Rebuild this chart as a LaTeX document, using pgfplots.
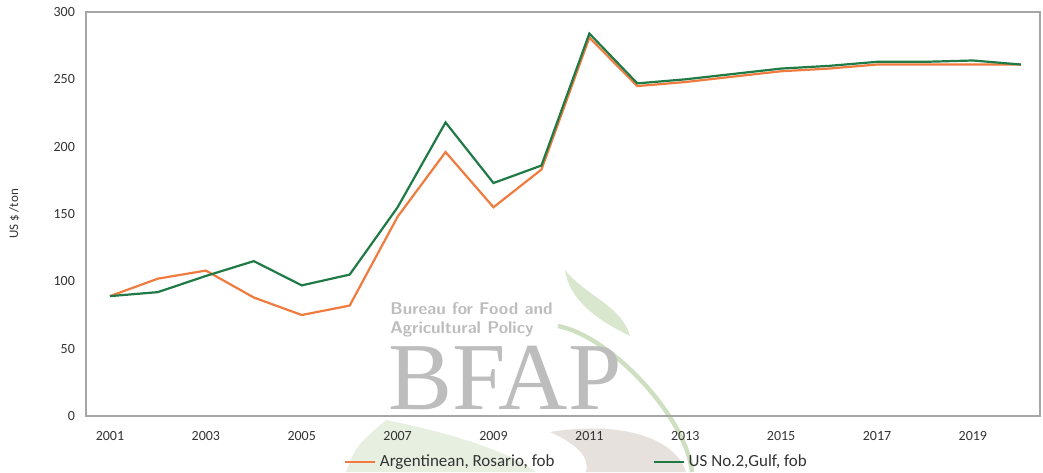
\documentclass[border=0pt]{standalone}
\usepackage{fontspec}
\setmainfont{Carlito}
\newfontfamily\markserif{Liberation Serif}
\usepackage{pgfplots}
\pgfplotsset{compat=1.18}
\definecolor{cargen}{HTML}{F07B3F}
\definecolor{cus}{HTML}{1F7A45}
\definecolor{cframe}{HTML}{A6A6A6}
\definecolor{cleaf}{HTML}{B9D3A6}
\definecolor{cmark}{HTML}{BDBDBD}
\definecolor{cbrown}{HTML}{C9BDB6}
% pixel -> pt: x=(px-86)/2, y=(416-py)/2
\begin{document}
\begin{tikzpicture}
\useasboundingbox (-43pt,-28pt) rectangle (478.5pt,208pt);
% BFAP watermark (background)
\fill[cleaf, opacity=0.55] (239.5pt,73pt) .. controls (250pt,60pt) and (268pt,55pt) .. (272pt,40pt)
  .. controls (262pt,45pt) and (242pt,55pt) .. cycle;
\draw[cleaf, line width=2.2pt, opacity=0.7] (236pt,45pt) .. controls (262pt,40pt) and (300pt,0pt) .. (303pt,-28pt);
\fill[cbrown, opacity=0.45] (232pt,-8pt) .. controls (270pt,-2pt) and (295pt,-12pt) .. (300pt,-28pt)
  -- (250pt,-28pt) .. controls (252pt,-20pt) and (245pt,-14pt) .. cycle;
\fill[cleaf, opacity=0.35] (150pt,-2pt) .. controls (190pt,-10pt) and (215pt,-20pt) .. (225pt,-28pt)
  -- (130pt,-28pt) .. controls (135pt,-15pt) .. cycle;
\node[anchor=north west, align=left, text=cmark, font=\sffamily\bfseries\fontsize{8.5}{9.5}\selectfont, inner sep=0pt]
  at (152pt,57pt) {Bureau for Food and\\Agricultural Policy};
\node[anchor=south west, text=cmark, font=\markserif\fontsize{48}{48}\selectfont, inner sep=0pt]
  at (151pt,3pt) {BFAP};
\begin{axis}[
  at={(0pt,0pt)}, anchor=south west,
  scale only axis, width=477pt, height=202pt,
  xmin=2000.5, xmax=2020.4, ymin=0, ymax=300,
  xtick={2001,2003,...,2019}, ytick={0,50,...,300},
  major tick length=0pt,
  axis line style={cframe, line width=0.6pt},
  tick label style={font=\fontsize{7}{8}\selectfont, text=black!80},
  /pgf/number format/assume math mode=true,
  x tick label style={/pgf/number format/1000 sep={}, yshift=-4pt},
  y tick label style={xshift=-2pt},
  ylabel={US \$ /ton},
  ylabel style={font=\fontsize{6.5}{7.5}\selectfont, text=black!80, at={(-0.075,0.5)}, anchor=center},
  legend style={at={(0.515,-0.114)}, anchor=center, draw=none, fill=none,
    font=\fontsize{8.5}{9.5}\selectfont, text=black!80, inner sep=0pt},
  legend columns=2,
  legend image code/.code={\draw[#1] (0pt,0pt) -- (15pt,0pt);},
  /tikz/every even column/.append style={column sep=47pt},
]
\addplot[cargen, line width=1.1pt] coordinates {
(2001,89) (2002,102) (2003,108) (2004,88) (2005,75) (2006,82) (2007,148)
(2008,196) (2009,155) (2010,183) (2011,281) (2012,245) (2013,248) (2014,252)
(2015,256) (2016,258) (2017,261) (2018,261) (2019,261) (2020,261)};
\addplot[cus, line width=1.1pt] coordinates {
(2001,89) (2002,92) (2003,104) (2004,115) (2005,97) (2006,105) (2007,155)
(2008,218) (2009,173) (2010,186) (2011,284) (2012,247) (2013,250) (2014,254)
(2015,258) (2016,260) (2017,263) (2018,263) (2019,264) (2020,261)};
\legend{{Argentinean, Rosario, fob},{US No.2,Gulf, fob}}
\end{axis}
\end{tikzpicture}
\end{document}
